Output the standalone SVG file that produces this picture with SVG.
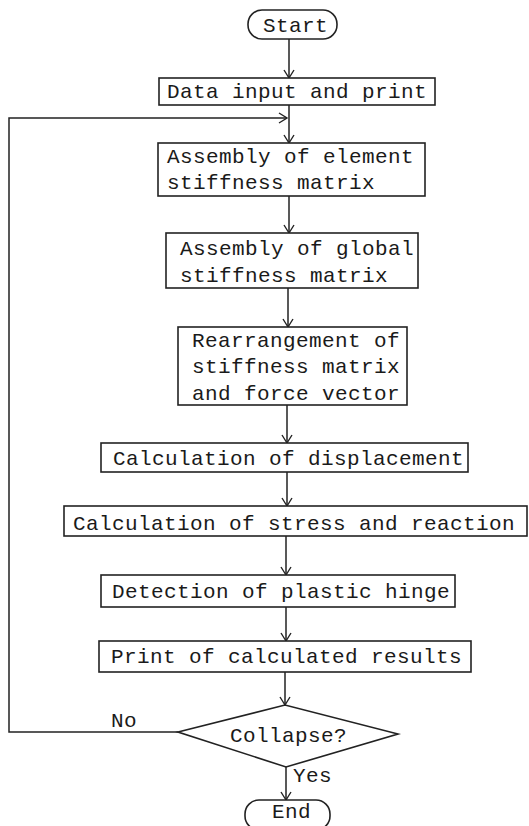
<svg xmlns="http://www.w3.org/2000/svg" width="529" height="826" viewBox="0 0 529 826">
<defs>
<marker id="arr" markerUnits="userSpaceOnUse" markerWidth="12" markerHeight="12" viewBox="-10 -6 12 12" refX="0" refY="0" orient="auto">
<path d="M-8,-5 L0,0 L-8,5" fill="none" stroke="#222" stroke-width="1.4"/>
</marker>
<style>
.b{fill:#fff;stroke:#222;stroke-width:1.6}
.t{font-family:"Liberation Mono","Courier New",monospace;font-size:21px;letter-spacing:0.4px;fill:#1a1a1a}
.c{fill:none;stroke:#222;stroke-width:1.5;marker-end:url(#arr)}
</style>
</defs>
<rect width="529" height="826" fill="#fff"/>
<g id="connectors">
<line class="c" x1="289" y1="39" x2="289" y2="78"/>
<line class="c" x1="289" y1="105" x2="289" y2="143"/>
<polyline class="c" points="178,732 9,732 9,118 287,118"/>
<line class="c" x1="289" y1="196" x2="289" y2="233"/>
<line class="c" x1="288" y1="288" x2="288" y2="327"/>
<line class="c" x1="287" y1="405" x2="287" y2="443"/>
<line class="c" x1="287" y1="472" x2="287" y2="506"/>
<line class="c" x1="286" y1="536" x2="286" y2="575"/>
<line class="c" x1="286" y1="607" x2="286" y2="641"/>
<line class="c" x1="285" y1="672" x2="285" y2="705"/>
<line class="c" x1="286" y1="767" x2="286" y2="800"/>
</g>
<g id="start">
<rect class="b" x="248" y="10" width="89" height="29" rx="14" ry="14"/>
<text class="t" x="263" y="32">Start</text>
</g>
<g id="data">
<rect class="b" x="159" y="78" width="276" height="27"/>
<text class="t" x="167" y="98">Data input and print</text>
</g>
<g id="element">
<rect class="b" x="158" y="143" width="267" height="53"/>
<text class="t" x="167" y="163">Assembly of element</text>
<text class="t" x="167" y="189">stiffness matrix</text>
</g>
<g id="global">
<rect class="b" x="166" y="233" width="252" height="55"/>
<text class="t" x="180" y="255">Assembly of global</text>
<text class="t" x="180" y="282">stiffness matrix</text>
</g>
<g id="rearrange">
<rect class="b" x="178" y="327" width="229" height="78"/>
<text class="t" x="192" y="347">Rearrangement of</text>
<text class="t" x="192" y="373">stiffness matrix</text>
<text class="t" x="192" y="400">and force vector</text>
</g>
<g id="displacement">
<rect class="b" x="101" y="443" width="367" height="29"/>
<text class="t" x="113" y="465">Calculation of displacement</text>
</g>
<g id="stress">
<rect class="b" x="64" y="506" width="463" height="30"/>
<text class="t" x="73" y="530">Calculation of stress and reaction</text>
</g>
<g id="detection">
<rect class="b" x="101" y="575" width="354" height="32"/>
<text class="t" x="112" y="598">Detection of plastic hinge</text>
</g>
<g id="print">
<rect class="b" x="99" y="641" width="372" height="31"/>
<text class="t" x="111" y="663">Print of calculated results</text>
</g>
<g id="collapse">
<polygon class="b" points="178,732 285,705 398,734 286,767"/>
<text class="t" x="230" y="742">Collapse?</text>
<text class="t" x="111" y="727">No</text>
<text class="t" x="293" y="782">Yes</text>
</g>
<g id="end">
<rect class="b" x="245" y="800" width="85" height="30" rx="14" ry="14"/>
<text class="t" x="272" y="818">End</text>
</g>
</svg>
